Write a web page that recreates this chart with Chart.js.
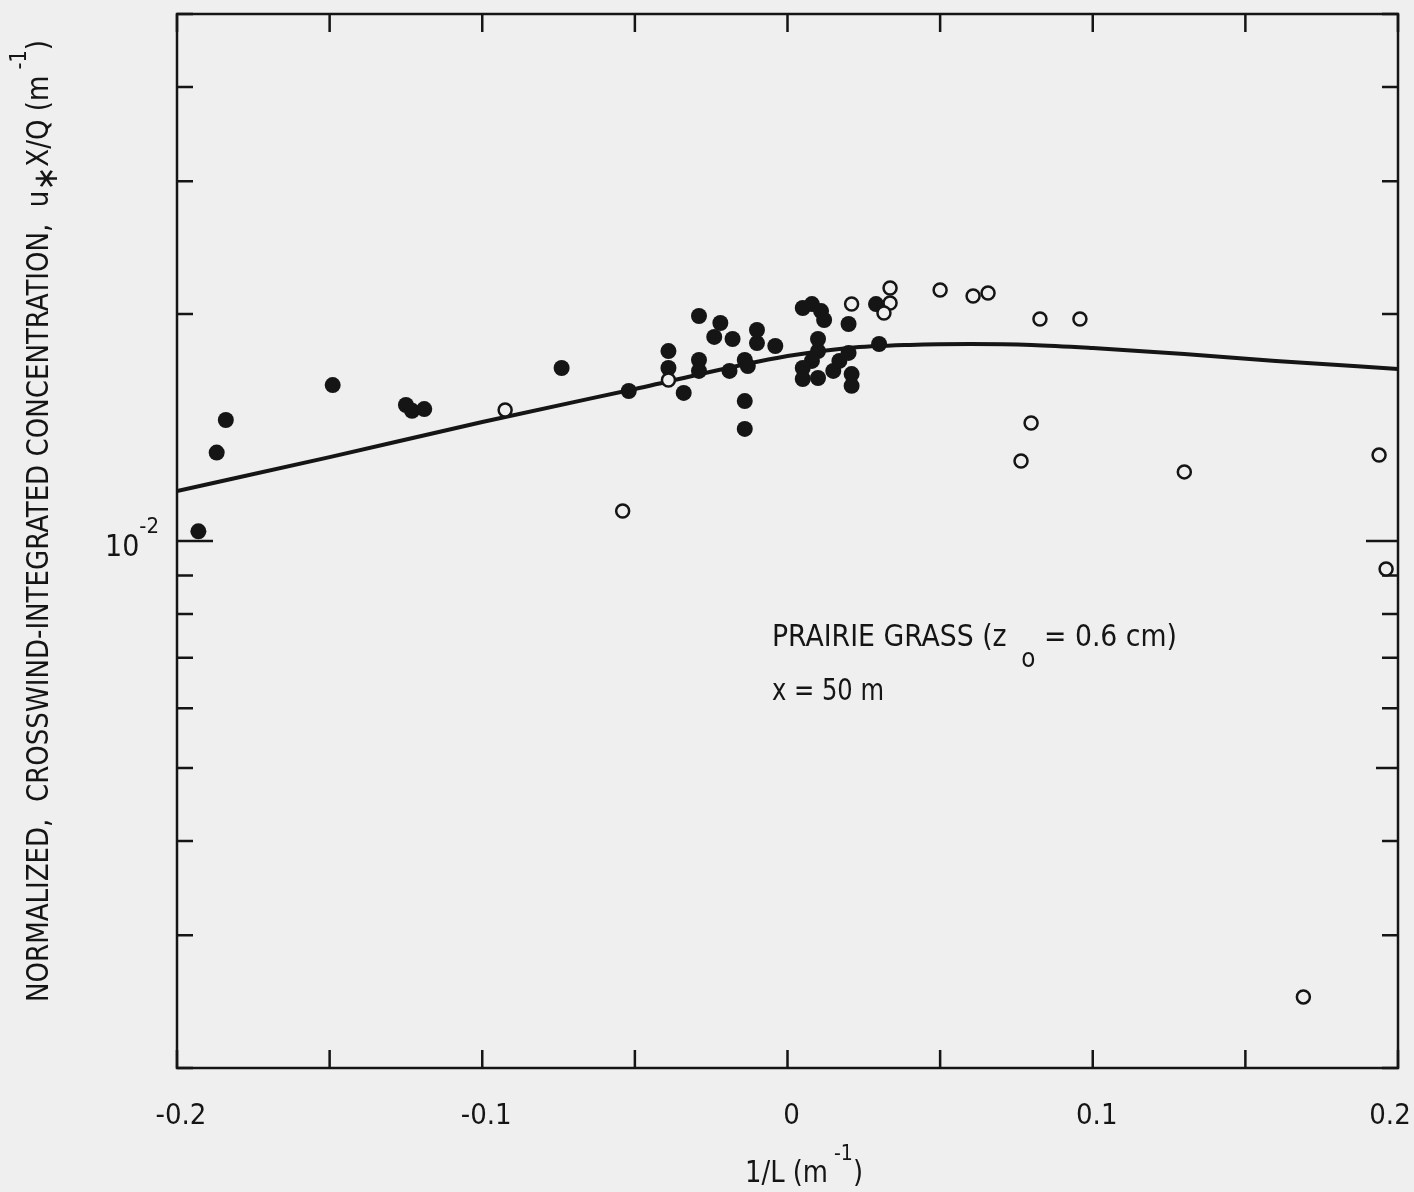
<!DOCTYPE html>
<html>
<head>
<meta charset="utf-8">
<script src="https://cdn.jsdelivr.net/npm/chart.js@4.4.0/dist/chart.umd.min.js"></script>
<style>
  html, body { margin: 0; padding: 0; background: #efefef; }
  #wrap { width: 1414px; height: 1192px; }
</style>
</head>
<body>
<div id="wrap"><canvas id="chart" width="1414" height="1192"></canvas></div>
<script>
const FONT = "'Liberation Sans Narrow', 'DejaVu Sans Condensed', sans-serif";
const INK = '#151515';
const PAPER = '#efefef';

// filled circles
const filledX = [-0.193, -0.187, -0.184, -0.149, -0.125, -0.123, -0.119, -0.074, -0.052, -0.039,
                 -0.039, -0.034, -0.029, -0.029, -0.029, -0.022, -0.024, -0.018, -0.019, -0.014,
                 -0.013, -0.010, -0.010, -0.004, -0.014, -0.014, 0.005, 0.008, 0.011, 0.012,
                 0.010, 0.010, 0.008, 0.005, 0.005, 0.010, 0.015, 0.017, 0.020, 0.020,
                 0.021, 0.021, 0.030, 0.029];
const filledY = [0.0103, 0.0131, 0.01447, 0.0161, 0.01515, 0.01488, 0.01496, 0.01696, 0.01581, 0.01786,
                 0.01696, 0.01572, 0.01988, 0.01738, 0.01681, 0.01946, 0.01865, 0.01853, 0.01681, 0.01738,
                 0.01706, 0.01905, 0.0183, 0.01814, 0.01533, 0.01408, 0.02037, 0.02062, 0.02018, 0.01964,
                 0.01853, 0.01786, 0.01733, 0.01696, 0.0164, 0.01645, 0.01681, 0.01733, 0.01776, 0.0194,
                 0.01665, 0.01606, 0.01825, 0.02062];

// open circles
const openX = [-0.0925, -0.054, -0.039, 0.021, 0.0336, 0.0336, 0.0316, 0.050, 0.0608, 0.0657,
               0.0827, 0.0958, 0.0798, 0.0765, 0.130, 0.1938, 0.1961, 0.169];
const openY = [0.01492, 0.01096, 0.01635, 0.02062, 0.02165, 0.02068, 0.02006, 0.02152, 0.02113, 0.02133,
               0.0197, 0.0197, 0.01434, 0.01277, 0.01235, 0.0130, 0.00918, 0.002485];

// model curve
const curveX = [-0.2, -0.15, -0.1, -0.05, 0, 0.02, 0.04, 0.06, 0.08, 0.1, 0.13, 0.16, 0.2];
const curveY = [0.01165, 0.01292, 0.01438, 0.01591, 0.01759, 0.01803, 0.0182, 0.01825, 0.0182, 0.01803,
                0.0177, 0.01733, 0.01691];

const xTicks = [-0.2, -0.15, -0.1, -0.05, 0, 0.05, 0.1, 0.15, 0.2];
const xLabels = ['-0.2', '', '-0.1', '', '0', '', '0.1', '', '0.2'];
const yTicks = [0.002, 0.003, 0.004, 0.005, 0.006, 0.007, 0.008, 0.009, 0.01, 0.02, 0.03, 0.04, 0.05];

const pts = (xs, ys) => xs.map((x, i) => ({ x: x, y: ys[i] }));

// draw a run of text pieces: [text, size, dy]; optional total width to fit
function rich(ctx, x, y, parts, fitWidth) {
  let w = 0;
  parts.forEach(p => { ctx.font = p[1] + 'px ' + FONT; w += ctx.measureText(p[0]).width; });
  ctx.save();
  ctx.translate(x, y);
  if (fitWidth) ctx.scale(fitWidth / w, 1);
  let cx = 0;
  parts.forEach(p => {
    ctx.font = p[1] + 'px ' + FONT;
    ctx.fillText(p[0], cx, p[2]);
    cx += ctx.measureText(p[0]).width;
  });
  ctx.restore();
}

const decor = {
  id: 'decor',
  beforeDatasetsDraw(chart) {
    const { ctx, chartArea: a, scales } = chart;
    ctx.save();
    ctx.strokeStyle = INK;
    ctx.lineWidth = 2.5;
    ctx.strokeRect(a.left, a.top, a.right - a.left, a.bottom - a.top);
    ctx.beginPath();
    xTicks.forEach(v => {
      const px = scales.x.getPixelForValue(v);
      ctx.moveTo(px, a.bottom); ctx.lineTo(px, a.bottom - 18);
      ctx.moveTo(px, a.top); ctx.lineTo(px, a.top + 18);
    });
    yTicks.forEach(v => {
      const py = scales.y.getPixelForValue(v);
      const l = v === 0.01 ? 36 : 16;
      const r = v === 0.01 ? 32 : (v === 0.005 ? 22 : 16);
      ctx.moveTo(a.left, py); ctx.lineTo(a.left + l, py);
      ctx.moveTo(a.right, py); ctx.lineTo(a.right - r, py);
    });
    ctx.stroke();
    ctx.restore();
  },
  afterDraw(chart) {
    const { ctx, chartArea: a, scales } = chart;
    ctx.save();
    ctx.fillStyle = INK;
    ctx.textBaseline = 'alphabetic';

    // x tick labels (kept inside the page at the right edge)
    ctx.textAlign = 'center';
    ctx.font = '29px ' + FONT;
    xTicks.forEach((v, i) => {
      if (!xLabels[i]) return;
      const px = Math.min(scales.x.getPixelForValue(v) + 4, 1390);
      ctx.fillText(xLabels[i], px, a.bottom + 56);
    });
    ctx.textAlign = 'left';

    // 10^-2 label
    const p2 = scales.y.getPixelForValue(0.01);
    rich(ctx, a.left - 72, p2 + 15, [['10', 30, 0], ['-2', 22, -23]]);

    // x title
    rich(ctx, 745, 1182, [['1/L (m', 30, 0], [' -1', 22, -22], [')', 30, 0]], 118);

    // y title
    ctx.save();
    ctx.translate(48, 1002);
    ctx.rotate(-Math.PI / 2);
    rich(ctx, 0, 0, [['NORMALIZED,  CROSSWIND-INTEGRATED CONCENTRATION,  u', 31, 0], ['\u2217', 34, 9],
                     ['X/Q (m', 31, 0], [' -1', 23, -22], [')', 31, 0]], 962);
    ctx.restore();

    // annotation
    rich(ctx, 772, 646, [['PRAIRIE GRASS (z', 30, 0], ['  o', 26, 21], [' = 0.6 cm)', 30, 0]], 405);
    rich(ctx, 772, 700, [['x = 50 m', 30, 0]], 112);
    ctx.restore();
  }
};

new Chart(document.getElementById('chart'), {
  type: 'scatter',
  data: {
    datasets: [
      {
        label: 'open',
        data: pts(openX, openY),
        pointRadius: 6.5,
        pointBorderWidth: 2.5,
        pointBorderColor: INK,
        pointBackgroundColor: PAPER
      },
      {
        label: 'filled',
        data: pts(filledX, filledY),
        pointRadius: 8,
        pointBorderWidth: 0,
        pointBackgroundColor: INK
      },
      {
        label: 'model',
        data: pts(curveX, curveY),
        showLine: true,
        pointRadius: 0,
        borderColor: INK,
        borderWidth: 4,
        cubicInterpolationMode: 'monotone'
      }
    ]
  },
  options: {
    responsive: false,
    animation: false,
    layout: { padding: { left: 0, top: 14, right: 16, bottom: 0 } },
    plugins: {
      legend: { display: false },
      tooltip: { enabled: false }
    },
    scales: {
      x: {
        type: 'linear',
        min: -0.2,
        max: 0.2,
        afterBuildTicks: s => { s.ticks = xTicks.map(v => ({ value: v })); },
        afterFit: s => { s.height = 124; s.paddingLeft = 0; s.paddingRight = 0; },
        grid: { display: false, drawTicks: false },
        border: { display: false },
        ticks: { display: false }
      },
      y: {
        type: 'logarithmic',
        min: 0.002,
        max: 0.05,
        afterBuildTicks: s => { s.ticks = yTicks.map(v => ({ value: v })); },
        afterFit: s => { s.width = 177; s.paddingTop = 0; s.paddingBottom = 0; },
        grid: { display: false, drawTicks: false },
        border: { display: false },
        ticks: { display: false }
      }
    }
  },
  plugins: [decor]
});
</script>
</body>
</html>
